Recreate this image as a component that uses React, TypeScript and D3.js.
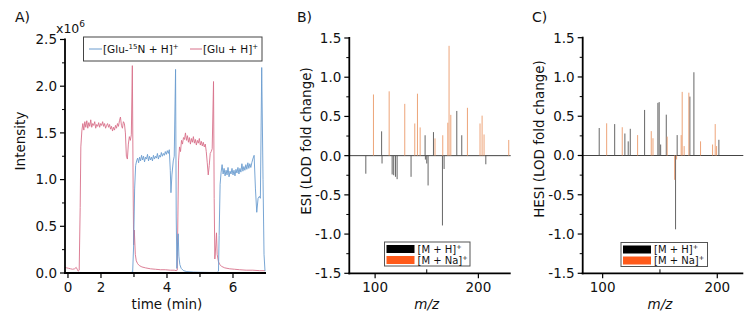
import React from "react";
import * as d3 from "d3";

// ---------- Panel A data (time in min, intensity in 1e6 counts) ----------
const glu15NTrace: [number, number][] = [
  [0.91, 0.005], [1.3, 0.006], [1.7, 0.004], [2.1, 0.006], [2.5, 0.005], [2.9, 0.005],
  [2.96, 0.01], [2.99, 0.3], [3.02, 0.9], [3.05, 1.15], [3.08, 1.2],
  [3.11, 1.23], [3.14, 1.18], [3.17, 1.24], [3.2, 1.2], [3.23, 1.26], [3.26, 1.21], [3.29, 1.25],
  [3.32, 1.19], [3.35, 1.24], [3.38, 1.22], [3.41, 1.27], [3.44, 1.2], [3.47, 1.25], [3.5, 1.21],
  [3.53, 1.24], [3.56, 1.2], [3.59, 1.26], [3.62, 1.22], [3.65, 1.25], [3.68, 1.23], [3.71, 1.28],
  [3.74, 1.22], [3.77, 1.26], [3.8, 1.24], [3.83, 1.29], [3.86, 1.25], [3.89, 1.28], [3.92, 1.26],
  [3.95, 1.3], [3.98, 1.27], [4.01, 1.31], [4.04, 1.28], [4.07, 1.32], [4.1, 1.1], [4.12, 0.86],
  [4.15, 1.05], [4.19, 1.2], [4.22, 1.25], [4.26, 2.18], [4.28, 0.6], [4.3, 0.05], [4.32, 0.3],
  [4.34, 0.42], [4.36, 0.18], [4.39, 0.09], [4.43, 0.05], [4.5, 0.025], [4.6, 0.015], [4.8, 0.01],
  [5.0, 0.008], [5.3, 0.006], [5.52, 0.006], [5.56, 0.02], [5.58, 0.4], [5.61, 0.95], [5.64, 1.08],
  [5.67, 1.16], [5.7, 1.06], [5.73, 1.12], [5.76, 1.04], [5.79, 1.1], [5.82, 1.05], [5.85, 1.13],
  [5.88, 1.03], [5.91, 1.09], [5.94, 1.06], [5.97, 1.12], [6.0, 1.05], [6.03, 1.1], [6.06, 1.04],
  [6.09, 1.11], [6.12, 1.07], [6.15, 1.13], [6.18, 1.06], [6.21, 1.12], [6.24, 1.08], [6.27, 1.17],
  [6.3, 1.09], [6.33, 1.14], [6.36, 1.1], [6.39, 1.16], [6.42, 1.11], [6.45, 1.18], [6.48, 1.12],
  [6.51, 1.17], [6.54, 1.13], [6.57, 1.18], [6.6, 1.22], [6.64, 1.26], [6.68, 0.9], [6.72, 0.65],
  [6.76, 0.8], [6.8, 0.82], [6.83, 0.8], [6.87, 2.2], [6.91, 1.0], [6.94, 0.2], [6.97, 0.02],
];

const gluTrace: [number, number][] = [
  [0.91, 0.06], [0.96, 0.055], [1.02, 0.05], [1.08, 0.045], [1.14, 0.04], [1.2, 0.045], [1.25, 0.06],
  [1.28, 0.04], [1.31, 0.02], [1.34, 0.03], [1.37, 0.7], [1.39, 1.35], [1.42, 1.52],
  [1.45, 1.6], [1.48, 1.53], [1.51, 1.62], [1.54, 1.56], [1.57, 1.63], [1.6, 1.55], [1.63, 1.61],
  [1.66, 1.57], [1.69, 1.64], [1.72, 1.56], [1.75, 1.6], [1.78, 1.58], [1.81, 1.62], [1.84, 1.55],
  [1.87, 1.59], [1.9, 1.57], [1.93, 1.61], [1.96, 1.56], [1.99, 1.6], [2.02, 1.58], [2.05, 1.62],
  [2.08, 1.57], [2.11, 1.6], [2.14, 1.55], [2.17, 1.58], [2.2, 1.6], [2.23, 1.56], [2.26, 1.59],
  [2.29, 1.54], [2.32, 1.57], [2.35, 1.52], [2.38, 1.56], [2.41, 1.53], [2.44, 1.58], [2.47, 1.55],
  [2.5, 1.6], [2.53, 1.57], [2.56, 1.63], [2.59, 1.67], [2.62, 1.58], [2.65, 1.55], [2.68, 1.62],
  [2.71, 1.6], [2.74, 1.5], [2.77, 1.25], [2.8, 1.22], [2.83, 1.38], [2.86, 1.46], [2.89, 1.42],
  [2.92, 1.48], [2.95, 2.22], [2.975, 0.9], [2.99, 0.3], [3.01, 0.46], [3.04, 0.2], [3.07, 0.13],
  [3.11, 0.1], [3.16, 0.08], [3.24, 0.065], [3.35, 0.055], [3.5, 0.045], [3.65, 0.04], [3.8, 0.035],
  [3.95, 0.035], [4.1, 0.03], [4.22, 0.03], [4.28, 0.025], [4.31, 0.03], [4.33, 0.6], [4.35, 1.2],
  [4.38, 1.35], [4.41, 1.3], [4.44, 1.42], [4.47, 1.38], [4.5, 1.45], [4.53, 1.43], [4.56, 1.5],
  [4.59, 1.42], [4.62, 1.47], [4.65, 1.4], [4.68, 1.45], [4.71, 1.38], [4.74, 1.44], [4.77, 1.4],
  [4.8, 1.46], [4.83, 1.39], [4.86, 1.43], [4.89, 1.37], [4.92, 1.42], [4.95, 1.39], [4.98, 1.44],
  [5.01, 1.37], [5.04, 1.41], [5.07, 1.36], [5.1, 1.4], [5.13, 1.35], [5.16, 1.38], [5.19, 1.3],
  [5.22, 1.18], [5.25, 1.05], [5.28, 1.15], [5.31, 1.28], [5.34, 1.3], [5.37, 1.33], [5.41, 2.05],
  [5.43, 0.8], [5.45, 0.15], [5.48, 0.3], [5.5, 0.43], [5.52, 0.2], [5.56, 0.12], [5.6, 0.09],
  [5.66, 0.07], [5.75, 0.055], [5.9, 0.045], [6.05, 0.04], [6.2, 0.035], [6.4, 0.03], [6.6, 0.03],
  [6.8, 0.025], [6.97, 0.025],
];

const timeMajorTicks = [1, 2, 4, 6];
const timeTickLabels = ["0", "2", "4", "6"];
const timeMinorTicks = [3, 5];
const intensityTicks = [0, 0.5, 1.0, 1.5, 2.0, 2.5];
const intensityMinorTicks = [0.25, 0.75, 1.25, 1.75, 2.25];

// ---------- Panels B / C data (m/z, LOD fold change) ----------
const esiHMz = [91, 106.3, 106.7, 116.5, 118, 119.7, 121.3, 134.8, 148.4, 148.7, 150, 151.3, 156.5, 165.2, 166.8, 179.1, 183.9, 207.2];
const esiHVal = [-0.23, 0.31, -0.1, -0.24, -0.25, -0.27, -0.3, -0.27, 0.26, -0.05, -0.1, -0.38, 0.3, -0.89, -0.17, 0.57, 0.26, -0.11];
const esiNaMz = [98.4, 113.6, 128.7, 138.4, 141, 143.6, 158, 165.5, 170.4, 171.6, 173.3, 189.4, 201.6, 203.6, 205.5, 229.4];
const esiNaVal = [0.78, 0.82, 0.66, 0.41, 0.79, 0.36, 0.22, 0.26, 0.42, 1.4, 0.52, 0.61, 0.41, 0.51, 0.27, 0.2];

const hesiHMz = [97, 110.5, 119.4, 122.3, 124.1, 136.6, 148.2, 149.3, 150.6, 155.5, 163.6, 165, 176.1, 179.6, 201.4];
const hesiHVal = [0.35, 0.4, 0.28, 0.18, 0.34, 0.58, 0.67, 0.68, 0.14, 0.52, -0.94, 0.26, 0.75, 1.06, 0.2];
const hesiNaMz = [103.5, 117.1, 130.5, 142.4, 143.9, 156.3, 162.8, 164.5, 168.5, 169.4, 171.1, 175.2, 185.4, 195.9, 198.2, 199.4];
const hesiNaVal = [0.41, 0.36, 0.26, 0.31, 0.22, 0.24, -0.31, -0.05, 0.26, 0.81, 0.12, 0.8, 0.18, 0.14, 0.4, 0.12];

const foldTicks = [-1.5, -1.0, -0.5, 0.0, 0.5, 1.0, 1.5];
const foldMinorTicks = [-1.25, -0.75, -0.25, 0.25, 0.75, 1.25];
const mzTicks = [100, 200];
const mzMinorTicks = [150];

const FONT = "DejaVu Sans, Verdana, sans-serif";
const RED = "#d8708a";
const BLUE = "#6a9ccf";
const BAR_BLACK = "#555555";
const BAR_ORANGE = "#eb9a6a";
const LEG_ORANGE = "#ff5a1a";

type Scale = d3.ScaleLinear<number, number>;

function YAxis({ x, y, ticks, minor, fmt, x0 }: { x: Scale; y: Scale; ticks: number[]; minor: number[]; fmt: (v: number) => string; x0: number }) {
  const px = x(x0);
  const [y1, y0] = y.range();
  return (
    <g>
      <line x1={px} x2={px} y1={y0 - 1} y2={y1 + 1} stroke="#000" strokeWidth={1.8} />
      {ticks.map((t) => (
        <g key={"t" + t}>
          <line x1={px - 5} x2={px} y1={y(t)} y2={y(t)} stroke="#000" strokeWidth={1.2} />
          <text x={px - 8} y={y(t)} dy="0.36em" textAnchor="end" fontSize={13.5} fontFamily={FONT} fill="#111">
            {fmt(t)}
          </text>
        </g>
      ))}
      {minor.map((t) => (
        <line key={"m" + t} x1={px - 3} x2={px} y1={y(t)} y2={y(t)} stroke="#000" strokeWidth={1} />
      ))}
    </g>
  );
}

function Bars({ x, y, mz, val, color }: { x: Scale; y: Scale; mz: number[]; val: number[]; color: string }) {
  return (
    <g>
      {mz.map((m, i) => (
        <line key={i} x1={x(m)} x2={x(m)} y1={y(0)} y2={y(val[i])} stroke={color} strokeWidth={0.9} />
      ))}
    </g>
  );
}

function BarPanel({ x, y, hMz, hVal, naMz, naVal, title, ylabel, ylabX, ylabY, leg }: any) {
  const [xl, xr] = x.range();
  const yb = y(-1.5);
  return (
    <g>
      <text x={title[1]} y={22} fontSize={14} fontFamily={FONT} fill="#111">{title[0]}</text>
      <line x1={xl} x2={xr} y1={y(0)} y2={y(0)} stroke="#444" strokeWidth={1} />
      <Bars x={x} y={y} mz={hMz} val={hVal} color={BAR_BLACK} />
      <Bars x={x} y={y} mz={naMz} val={naVal} color={BAR_ORANGE} />
      <YAxis x={x} y={y} ticks={foldTicks} minor={foldMinorTicks} fmt={(v) => d3.format(".1f")(v).replace("−", "-")} x0={x.domain()[0]} />
      <line x1={xl - 1} x2={xr} y1={yb} y2={yb} stroke="#000" strokeWidth={1.8} />
      {mzTicks.map((t) => (
        <g key={t}>
          <line x1={x(t)} x2={x(t)} y1={yb} y2={yb + 5} stroke="#000" strokeWidth={1.2} />
          <text x={x(t)} y={292} textAnchor="middle" fontSize={13.5} fontFamily={FONT} fill="#111">{t}</text>
        </g>
      ))}
      {mzMinorTicks.map((t) => (
        <line key={t} x1={x(t)} x2={x(t)} y1={yb - 4} y2={yb} stroke="#000" strokeWidth={1} />
      ))}
      <text x={x(150)} y={309} textAnchor="middle" fontSize={13.5} fontStyle="italic" fontFamily={FONT} fill="#111">m/z</text>
      <text transform={`translate(${ylabX},${ylabY}) rotate(-90)`} textAnchor="middle" fontSize={13.5} fontFamily={FONT} fill="#111">{ylabel}</text>
      <g transform={`translate(${leg[0]},${leg[1]})`}>
        <rect x={0} y={0} width={leg[2]} height={24} fill="#fff" stroke="#555" strokeWidth={1} />
        <rect x={2} y={3} width={28} height={8} fill="#000" />
        <rect x={2} y={14} width={28} height={8} fill={LEG_ORANGE} />
        <text x={33} y={10.5} fontSize={10} fontFamily={FONT} fill="#111">
          [M + H]<tspan dy={-4} fontSize={6.5}>+</tspan>
        </text>
        <text x={33} y={21.5} fontSize={10} fontFamily={FONT} fill="#111">
          [M + Na]<tspan dy={-4} fontSize={6.5}>+</tspan>
        </text>
      </g>
    </g>
  );
}

export default function App() {
  const ax = d3.scaleLinear().domain([0.91, 7.0]).range([65, 266]);
  const ay = d3.scaleLinear().domain([0, 2.5]).range([273, 39.5]);
  const line = d3
    .line<[number, number]>()
    .x((d) => ax(d[0]))
    .y((d) => ay(d[1]));

  const bx = d3.scaleLinear().domain([75, 231.3]).range([349.3, 510.7]);
  const by = d3.scaleLinear().domain([-1.5, 1.5]).range([273.3, 38]);
  const cx = d3.scaleLinear().domain([82.6, 222.7]).range([582.7, 743.3]);
  const cy = d3.scaleLinear().domain([-1.5, 1.5]).range([273.3, 37.7]);

  return (
    <svg width={756} height={327} style={{ position: "absolute", left: 0, top: 0, background: "#fff" }}>
      <rect width={756} height={327} fill="#fff" />
      {/* Panel A */}
      <text x={15} y={22} fontSize={14} fontFamily={FONT} fill="#111">A)</text>
      <path d={line(gluTrace) || ""} fill="none" stroke={RED} strokeWidth={0.9} />
      <path d={line(glu15NTrace) || ""} fill="none" stroke={BLUE} strokeWidth={0.9} />
      <YAxis x={ax} y={ay} ticks={intensityTicks} minor={intensityMinorTicks} fmt={(v) => d3.format(".1f")(v)} x0={0.91} />
      <line x1={64} x2={266} y1={273} y2={273} stroke="#000" strokeWidth={1.8} />
      {timeMajorTicks.map((t, i) => (
        <g key={t}>
          <line x1={ax(t)} x2={ax(t)} y1={273} y2={278} stroke="#000" strokeWidth={1.2} />
          <text x={ax(t)} y={292} textAnchor="middle" fontSize={13.5} fontFamily={FONT} fill="#111">{timeTickLabels[i]}</text>
        </g>
      ))}
      {timeMinorTicks.map((t) => (
        <line key={t} x1={ax(t)} x2={ax(t)} y1={273} y2={277} stroke="#000" strokeWidth={1.2} />
      ))}
      <text x={167} y={309} textAnchor="middle" fontSize={13.5} fontFamily={FONT} fill="#111">time (min)</text>
      <text transform="translate(25,141) rotate(-90)" textAnchor="middle" fontSize={13.5} fontFamily={FONT} fill="#111">Intensity</text>
      <text x={56} y={33} fontSize={12.5} fontFamily={FONT} fill="#111">
        x10<tspan dy={-6} fontSize={9}>6</tspan>
      </text>
      <g>
        <rect x={83.5} y={37} width={178.5} height={24} fill="#fff" stroke="#444" strokeWidth={1} />
        <line x1={89} x2={102} y1={49} y2={49} stroke={BLUE} strokeWidth={1} />
        <text x={103} y={53} fontSize={10.5} fontFamily={FONT} fill="#111">
          [Glu-<tspan dy={-4} fontSize={7}>15</tspan><tspan dy={4}>N + H]</tspan><tspan dy={-4} fontSize={7}>+</tspan>
        </text>
        <line x1={190} x2={202} y1={49} y2={49} stroke={RED} strokeWidth={1} />
        <text x={203} y={53} fontSize={10.5} fontFamily={FONT} fill="#111">
          [Glu + H]<tspan dy={-4} fontSize={7}>+</tspan>
        </text>
      </g>

      {/* Panel B */}
      <BarPanel x={bx} y={by} hMz={esiHMz} hVal={esiHVal} naMz={esiNaMz} naVal={esiNaVal}
        title={["B)", 297]} ylabel="ESI (LOD fold change)" ylabX={311} ylabY={141} leg={[384.5, 242, 85.5]} />
      {/* Panel C */}
      <BarPanel x={cx} y={cy} hMz={hesiHMz} hVal={hesiHVal} naMz={hesiNaMz} naVal={hesiNaVal}
        title={["C)", 532]} ylabel="HESI (LOD fold change)" ylabX={544} ylabY={139} leg={[621, 242.5, 86.5]} />
    </svg>
  );
}
